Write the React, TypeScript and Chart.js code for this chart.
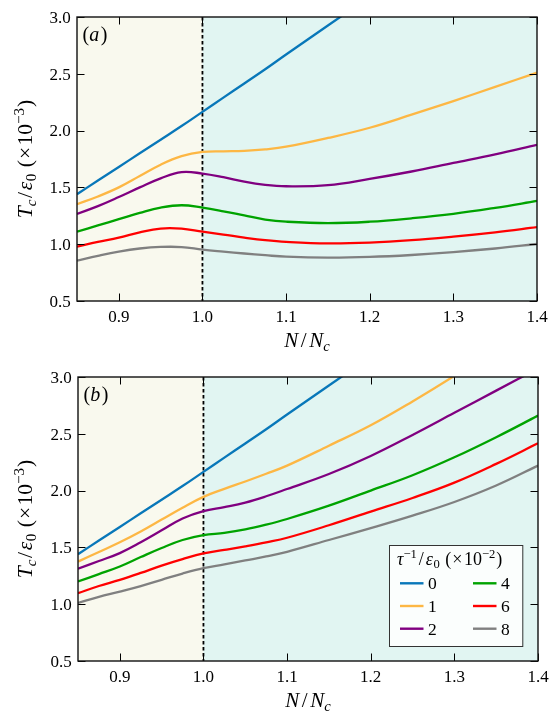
import React, { useEffect, useRef } from "react";
import { Chart, registerables } from "chart.js";

Chart.register(...registerables);

// ---------- data ----------
const xValues = [0.85, 0.875, 0.9, 0.925, 0.95, 0.975, 1.0, 1.025, 1.05, 1.075, 1.1, 1.15, 1.2, 1.25, 1.3, 1.35, 1.4];
const xTicks = [0.9, 1.0, 1.1, 1.2, 1.3, 1.4];
const yTicks = [0.5, 1.0, 1.5, 2.0, 2.5, 3.0];
const seriesLabels = ["0", "1", "2", "4", "6", "8"];
const seriesColors = ["#0877B9", "#FDB744", "#800080", "#00A300", "#FF0000", "#808080"];

// panel (a)
const a0 = [1.44, 1.56, 1.68, 1.8, 1.92, 2.04, 2.165, 2.29, 2.415, 2.54, 2.67, 2.925, 3.18, null, null, null, null];
const a1 = [1.352, 1.42, 1.5, 1.6, 1.7, 1.775, 1.812, 1.818, 1.822, 1.835, 1.858, 1.935, 2.025, 2.14, 2.26, 2.385, 2.51];
const a2 = [1.267, 1.335, 1.415, 1.5, 1.58, 1.635, 1.622, 1.59, 1.55, 1.522, 1.51, 1.52, 1.575, 1.64, 1.715, 1.79, 1.874];
const a3 = [1.111, 1.165, 1.22, 1.275, 1.322, 1.343, 1.322, 1.29, 1.253, 1.217, 1.198, 1.185, 1.198, 1.228, 1.267, 1.32, 1.381];
const a4 = [0.979, 1.02, 1.058, 1.105, 1.138, 1.137, 1.11, 1.085, 1.058, 1.035, 1.02, 1.007, 1.014, 1.035, 1.067, 1.105, 1.15];
const a5 = [0.856, 0.898, 0.935, 0.962, 0.976, 0.975, 0.953, 0.935, 0.918, 0.903, 0.89, 0.882, 0.888, 0.905, 0.93, 0.962, 1.002];

// panel (b)
const b0 = [1.44, 1.56, 1.68, 1.8, 1.92, 2.04, 2.165, 2.29, 2.415, 2.54, 2.67, 2.925, 3.18, null, null, null, null];
const b1 = [1.375, 1.46, 1.545, 1.64, 1.745, 1.85, 1.945, 2.015, 2.08, 2.148, 2.22, 2.395, 2.575, 2.785, 3.01, 3.25, null];
const b2 = [1.313, 1.38, 1.45, 1.545, 1.65, 1.755, 1.82, 1.855, 1.895, 1.95, 2.014, 2.146, 2.305, 2.49, 2.685, 2.88, 3.075];
const b3 = [1.2, 1.265, 1.332, 1.415, 1.495, 1.565, 1.608, 1.628, 1.658, 1.7, 1.75, 1.867, 2.0, 2.135, 2.293, 2.47, 2.66];
const b4 = [1.097, 1.16, 1.214, 1.275, 1.34, 1.397, 1.447, 1.478, 1.51, 1.545, 1.585, 1.695, 1.815, 1.935, 2.07, 2.235, 2.416];
const b5 = [1.012, 1.065, 1.111, 1.16, 1.215, 1.27, 1.317, 1.35, 1.385, 1.42, 1.461, 1.565, 1.67, 1.78, 1.9, 2.045, 2.22];

const panelA = [a0, a1, a2, a3, a4, a5];
const panelB = [b0, b1, b2, b3, b4, b5];

// ---------- helpers ----------
const SERIF = '"Liberation Serif"';

type Seg = { t: string; it?: boolean; sc?: number; dy?: number; k?: number };

function fontOf(s: Seg, size: number) {
  return `${s.it ? "italic " : ""}${Math.round(size * (s.sc ?? 1) * 10) / 10}px ${SERIF}`;
}

function drawRich(ctx: CanvasRenderingContext2D, segs: Seg[], size: number, x: number, y: number, align: "left" | "center" | "right", rot: boolean) {
  ctx.save();
  ctx.translate(x, y);
  if (rot) ctx.rotate(-Math.PI / 2);
  ctx.textBaseline = "alphabetic";
  ctx.textAlign = "left";
  ctx.fillStyle = "#000";
  let w = 0;
  for (const s of segs) {
    ctx.font = fontOf(s, size);
    w += ctx.measureText(s.t).width + (s.k ?? 0);
  }
  let cx = align === "center" ? -w / 2 : align === "right" ? -w : 0;
  for (const s of segs) {
    ctx.font = fontOf(s, size);
    ctx.fillText(s.t, cx, s.dy ?? 0);
    cx += ctx.measureText(s.t).width + (s.k ?? 0);
  }
  ctx.restore();
}

const yTitle: Seg[] = [
  { t: "T", it: true },
  { t: "c", it: true, sc: 0.7, dy: 4, k: 1.5 },
  { t: "/", k: 2 },
  { t: "ε", it: true, k: 0.5 },
  { t: "0", sc: 0.7, dy: 4, k: 1 },
  { t: " (", k: 1 },
  { t: "×", k: 1.5 },
  { t: "10" },
  { t: "−3", sc: 0.7, dy: -8.5, k: 1 },
  { t: ")" },
];
const xTitle: Seg[] = [
  { t: "N", it: true, k: 2.5 },
  { t: "/", k: 2.5 },
  { t: "N", it: true },
  { t: "c", it: true, sc: 0.7, dy: 4 },
];
const legendTitle: Seg[] = [
  { t: "τ", it: true },
  { t: "−1", sc: 0.7, dy: -7, k: 2 },
  { t: "/", k: 2 },
  { t: "ε", it: true, k: 0.5 },
  { t: "0", sc: 0.7, dy: 3.5, k: 1 },
  { t: " (", k: 1 },
  { t: "×", k: 1.5 },
  { t: "10" },
  { t: "−2", sc: 0.7, dy: -7, k: 1 },
  { t: ")" },
];

function makePlugin(panel: string, withLegend: boolean) {
  return {
    id: "decor" + panel,
    beforeDatasetsDraw(chart: any) {
      const ctx: CanvasRenderingContext2D = chart.ctx;
      const a = chart.chartArea;
      const xs = chart.scales.x;
      const x1 = xs.getPixelForValue(1.0);
      ctx.save();
      ctx.fillStyle = "#F9F9EE";
      ctx.fillRect(a.left, a.top, x1 - a.left, a.bottom - a.top);
      ctx.fillStyle = "#E1F5F2";
      ctx.fillRect(x1, a.top, a.right - x1, a.bottom - a.top);
      ctx.strokeStyle = "#000";
      ctx.lineWidth = 1.8;
      ctx.setLineDash([3.6, 2.4]);
      ctx.beginPath();
      ctx.moveTo(x1, a.top);
      ctx.lineTo(x1, a.bottom);
      ctx.stroke();
      ctx.restore();
    },
    afterDatasetsDraw(chart: any) {
      const ctx: CanvasRenderingContext2D = chart.ctx;
      const a = chart.chartArea;
      const xs = chart.scales.x;
      const ys = chart.scales.y;
      ctx.save();
      ctx.strokeStyle = "#000";
      ctx.lineWidth = 1;
      const tl = 7.5;
      ctx.beginPath();
      for (const v of xTicks) {
        const p = Math.round(xs.getPixelForValue(v)) + 0.5;
        ctx.moveTo(p, a.bottom);
        ctx.lineTo(p, a.bottom - tl);
        ctx.moveTo(p, a.top);
        ctx.lineTo(p, a.top + tl);
      }
      for (const v of yTicks) {
        const p = Math.round(ys.getPixelForValue(v)) + 0.5;
        ctx.moveTo(a.left, p);
        ctx.lineTo(a.left + tl, p);
        ctx.moveTo(a.right, p);
        ctx.lineTo(a.right - tl, p);
      }
      ctx.stroke();
      ctx.lineWidth = 1.4;
      ctx.strokeStyle = "#111";
      ctx.strokeRect(a.left, a.top, a.right - a.left, a.bottom - a.top);
      ctx.restore();

      // tick labels (positions from the chart's scales)
      for (const v of xTicks) {
        drawRich(ctx, [{ t: v.toFixed(1) }], 17, xs.getPixelForValue(v), a.bottom + 20.5, "center", false);
      }
      for (const v of yTicks) {
        drawRich(ctx, [{ t: v.toFixed(1) }], 17, a.left - 6.3, ys.getPixelForValue(v) + 5.8, "right", false);
      }

      drawRich(ctx, [{ t: "(" }, { t: panel, it: true, k: 1.5 }, { t: ")" }], 20, a.left + 5.5, a.top + 24, "left", false);
      drawRich(ctx, yTitle, 21.5, 32, (a.top + a.bottom) / 2, "center", true);
      drawRich(ctx, xTitle, 21, (a.left + a.right) / 2, a.bottom + 46, "center", false);

      if (withLegend) {
        const ds = chart.data.datasets;
        const bx = a.right - 149;
        const by = a.bottom - 116;
        const bw = 133.3;
        const bh = 101;
        ctx.save();
        ctx.fillStyle = "rgba(255,255,255,0.85)";
        ctx.fillRect(bx, by, bw, bh);
        ctx.strokeStyle = "#333";
        ctx.lineWidth = 1;
        ctx.strokeRect(bx + 0.5, by + 0.5, bw, bh);
        ctx.restore();
        drawRich(ctx, legendTitle, 18, bx + 8, by + 19.5, "left", false);
        const rows = [38.3, 61, 83.7];
        const cols = [11, 84];
        for (let i = 0; i < ds.length; i++) {
          const c = Math.floor(i / 3);
          const r = i % 3;
          const ly = by + rows[r];
          const lx = bx + cols[c];
          ctx.save();
          ctx.strokeStyle = ds[i].borderColor;
          ctx.lineWidth = 2.4;
          ctx.beginPath();
          ctx.moveTo(lx, ly);
          ctx.lineTo(lx + 23.5, ly);
          ctx.stroke();
          ctx.restore();
          drawRich(ctx, [{ t: ds[i].label }], 17.5, lx + 28, ly + 5.8, "left", false);
        }
      }
    },
  };
}

function makeConfig(panel: string, series: (number | null)[][], pad: { top: number; right: number }, yWidth: number, xHeight: number, withLegend: boolean): any {
  return {
    type: "line",
    data: {
      datasets: series.map((arr, i) => ({
        label: seriesLabels[i],
        data: xValues.map((x, j) => ({ x, y: arr[j] })),
        borderColor: seriesColors[i],
        backgroundColor: seriesColors[i],
        borderWidth: 2.3,
        pointRadius: 0,
        fill: false,
        tension: 0.4,
        spanGaps: false,
      })),
    },
    options: {
      responsive: false,
      animation: false,
      events: [],
      layout: { padding: { left: 0, right: pad.right, top: pad.top, bottom: 0 } },
      plugins: { legend: { display: false }, tooltip: { enabled: false }, title: { display: false } },
      scales: {
        x: {
          type: "linear",
          min: 0.85,
          max: 1.4,
          afterBuildTicks: (s: any) => {
            s.ticks = xTicks.map((v) => ({ value: v }));
          },
          afterFit: (s: any) => {
            s.height = xHeight;
          },
          grid: { display: false },
          border: { display: false },
          ticks: { display: false },
        },
        y: {
          type: "linear",
          min: 0.5,
          max: 3.0,
          afterBuildTicks: (s: any) => {
            s.ticks = yTicks.map((v) => ({ value: v }));
          },
          afterFit: (s: any) => {
            s.width = yWidth;
          },
          grid: { display: false },
          border: { display: false },
          ticks: { display: false },
        },
      },
    },
    plugins: [makePlugin(panel, withLegend)],
  };
}

function Panel(props: { cfg: () => any }) {
  const ref = useRef<HTMLCanvasElement | null>(null);
  useEffect(() => {
    if (!ref.current) return;
    const chart = new Chart(ref.current, props.cfg());
    return () => chart.destroy();
  }, []);
  return <canvas ref={ref} width={550} height={356} style={{ display: "block", width: 550, height: 356 }} />;
}

export default function App() {
  return (
    <div style={{ position: "fixed", left: 0, top: 0, width: 550, height: 712, background: "#fff" }}>
      <Panel cfg={() => makeConfig("a", panelA, { top: 17, right: 13 }, 77, 55, false)} />
      <Panel cfg={() => makeConfig("b", panelB, { top: 21, right: 12 }, 78, 51, true)} />
    </div>
  );
}
